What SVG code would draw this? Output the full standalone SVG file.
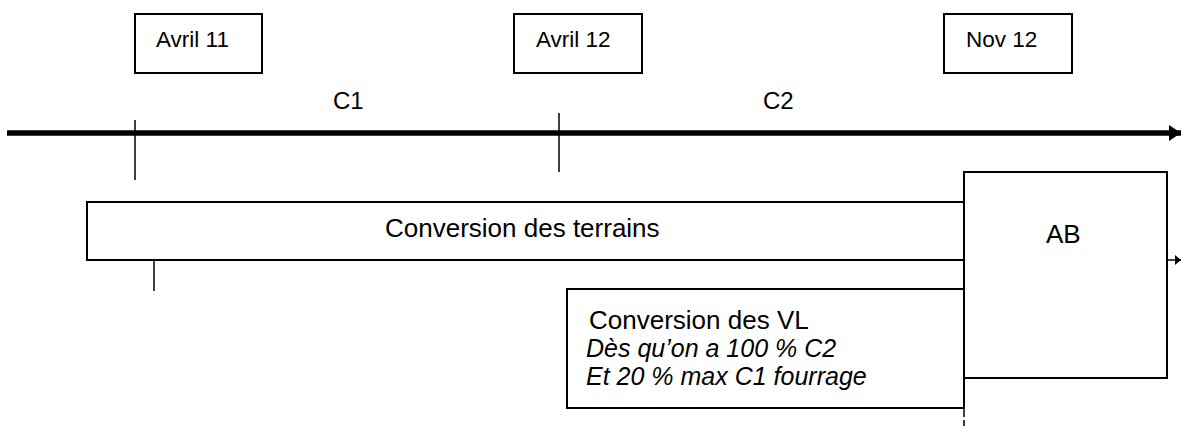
<svg xmlns="http://www.w3.org/2000/svg" width="1181" height="426" viewBox="0 0 1181 426">
<style>
text{font-family:"Liberation Sans",Arial,sans-serif;fill:#000}
.box{fill:#fff;stroke:#000;stroke-width:2}
.ln{stroke:#000;stroke-width:1.5;fill:none}
.date{font-size:22.5px}
.per{font-size:24px}
.lbl{font-size:26px}
.it{font-style:italic;font-size:25px}
</style>
<defs>
<marker id="big" markerUnits="userSpaceOnUse" markerWidth="14" markerHeight="18" refX="12" refY="8" orient="auto"><path d="M0,0 L12,8 L0,16 Z" fill="#000"/></marker>
<marker id="small" markerUnits="userSpaceOnUse" markerWidth="8" markerHeight="12" refX="6" refY="5" orient="auto"><path d="M0,0 L6,5 L0,10 Z" fill="#000"/></marker>
</defs>
<rect width="1181" height="426" fill="#fff"/>
<g id="connectors">
<line x1="7" y1="133" x2="1181" y2="133" stroke="#000" stroke-width="5.5" marker-end="url(#big)"/>
<line class="ln" x1="135" y1="120" x2="135" y2="180"/>
<line class="ln" x1="559" y1="113" x2="559" y2="172"/>
<line class="ln" x1="154" y1="260" x2="154" y2="291"/>
<line class="ln" x1="1167" y1="260" x2="1181" y2="260" marker-end="url(#small)"/>
<line class="ln" x1="964" y1="378" x2="964" y2="417"/>
<line class="ln" x1="964" y1="420" x2="964" y2="426"/>
</g>
<g id="avril11"><rect class="box" x="135" y="14" width="127" height="59"/><text class="date" x="156" y="47">Avril 11</text></g>
<g id="avril12"><rect class="box" x="514" y="14" width="128" height="59"/><text class="date" x="536" y="47">Avril 12</text></g>
<g id="nov12"><rect class="box" x="944" y="14" width="128" height="59"/><text class="date" x="966" y="47">Nov 12</text></g>
<g id="c1"><text class="per" x="333" y="109">C1</text></g>
<g id="c2"><text class="per" x="763" y="109">C2</text></g>
<g id="terrains"><rect class="box" x="87" y="202" width="877" height="58"/><text class="lbl" x="385" y="237">Conversion des terrains</text></g>
<g id="vl"><rect class="box" x="567" y="289" width="397" height="119"/>
<text class="lbl" x="589" y="329">Conversion des VL</text>
<text class="lbl it" x="586" y="357">Dès qu’on a 100 % C2</text>
<text class="lbl it" x="586" y="385">Et 20 % max C1 fourrage</text></g>
<g id="ab"><rect class="box" x="964" y="172" width="203" height="206"/><text class="lbl" x="1046" y="243">AB</text></g>
</svg>
